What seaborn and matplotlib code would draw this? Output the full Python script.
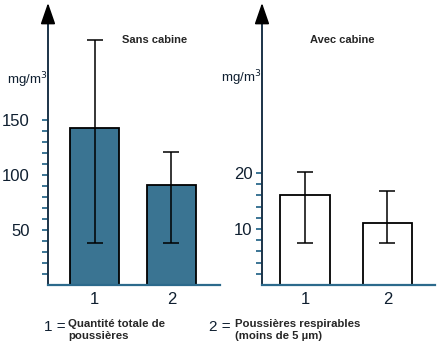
import numpy as np
import matplotlib
matplotlib.use("Agg")
import matplotlib.pyplot as plt
import seaborn as sns
import pandas as pd

# values
categories = ["1", "2"]
sans_values = [143, 91]
sans_err_low = [38, 38]
sans_err_high = [223, 121]
avec_values = [16, 11.1]
avec_err_low = [7.5, 7.5]
avec_err_high = [20.2, 16.8]

sns.set_style("white")
plt.rcParams['font.family'] = ['Liberation Sans', 'DejaVu Sans']
plt.rcParams['mathtext.fontset'] = 'custom'
plt.rcParams['mathtext.rm'] = 'Liberation Sans Narrow'
narrow = dict(family=['Liberation Sans Narrow', 'Liberation Sans', 'DejaVu Sans'],
              stretch='condensed')

bar_color = '#3a7492'
spine_x = '#2c6a8c'
spine_y = '#1b3348'
tick_col = '#0f1f30'

W, H = 439, 352
fig = plt.figure(figsize=(W / 100, H / 100), dpi=100)


def px_axes(x0, x1, y_top, y_bot):
    return fig.add_axes([x0 / W, 1 - y_bot / H, (x1 - x0) / W, (y_bot - y_top) / H])


def draw_panel(ax, values, lo, hi, color, ytop, xlim, width, major, minor, pad, title, title_x):
    df = pd.DataFrame({'cat': categories, 'val': values})
    sns.barplot(data=df, x='cat', y='val', color=color, width=width,
                edgecolor='black', linewidth=1.3, saturation=1, ax=ax)
    vals = np.array(values)
    yerr = [vals - np.array(lo), np.array(hi) - vals]
    ax.errorbar(range(len(categories)), vals, yerr=yerr, fmt='none',
                ecolor='black', elinewidth=1.1, capsize=6, capthick=1.1, zorder=5)
    ax.set_xlim(*xlim)
    ax.set_ylim(0, ytop)
    ax.set_xlabel('')
    ax.set_ylabel('')
    for s in ['top', 'right']:
        ax.spines[s].set_visible(False)
    ax.spines['bottom'].set_color(spine_x)
    ax.spines['bottom'].set_linewidth(1.6)
    ax.spines['left'].set_color(spine_y)
    ax.spines['left'].set_linewidth(1.4)
    ax.set_yticks(minor)
    ax.set_yticklabels([str(v) if v in major else '' for v in minor],
                       fontsize=12, color=tick_col, **narrow)
    ax.tick_params(axis='y', length=4, width=1.3, color=spine_x, pad=pad, left=True)
    ax.tick_params(axis='x', length=0, pad=5)
    ax.set_xticks(range(len(categories)))
    ax.set_xticklabels(categories, fontsize=12, color=tick_col, **narrow)
    ax.annotate('', xy=(0, 1.055), xytext=(0, 0.99), xycoords='axes fraction',
                arrowprops=dict(arrowstyle='-|>,head_length=1.3,head_width=0.45',
                                color='black', lw=1.2, mutation_scale=10))
    ax.text(title_x, 0.907, title, transform=ax.transAxes, fontsize=8,
            fontweight='bold', ha='left', va='center')


ax1 = px_axes(48, 220, 15, 285)
draw_panel(ax1, sans_values, sans_err_low, sans_err_high, bar_color, 270 / 1.1,
           (-0.604, 1.63), 0.64, [50, 100, 150], list(range(10, 151, 10)), 9,
           'Sans cabine', 0.43)

ax2 = px_axes(262, 435, 15, 285)
draw_panel(ax2, avec_values, avec_err_low, avec_err_high, 'white', 270 / 5.6,
           (-0.52, 1.576), 0.6, [10, 20], list(range(2, 21, 2)), 3,
           'Avec cabine', 0.28)

fig.text(7 / W, 1 - 80 / H, 'mg/m$^\\mathrm{3}$', fontsize=9.5, va='center', color=tick_col, **narrow)
fig.text(221 / W, 1 - 78 / H, 'mg/m$^\\mathrm{3}$', fontsize=9.5, va='center', color=tick_col, **narrow)

fig.text(44 / W, 1 - 327 / H, '1 =', fontsize=11, va='center', color=tick_col, **narrow)
fig.text(68 / W, 1 - 330 / H, 'Quantité totale de\npoussières', fontsize=8.2,
         fontweight='bold', va='center', linespacing=1.15)
fig.text(209 / W, 1 - 327 / H, '2 =', fontsize=11, va='center', color=tick_col, **narrow)
fig.text(235 / W, 1 - 330 / H, 'Poussières respirables\n(moins de 5 µm)', fontsize=8.2,
         fontweight='bold', va='center', linespacing=1.15)

fig.savefig('out.png', dpi=100)
